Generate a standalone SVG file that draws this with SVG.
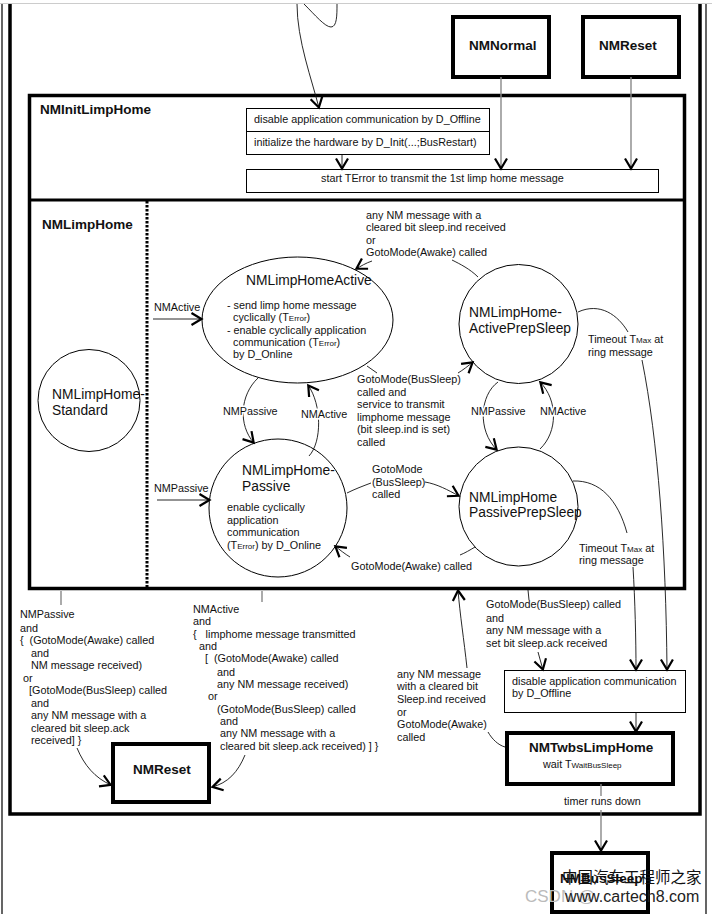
<svg xmlns="http://www.w3.org/2000/svg" width="712" height="914" viewBox="0 0 712 914">
<style>
text{font-family:"Liberation Sans",Arial,sans-serif;font-size:10.8px;fill:#111}
.b{font-weight:bold;font-size:13.5px}
.n{font-size:13.8px}
.s{font-size:8px}
.h{paint-order:stroke;stroke:#fff;stroke-width:3px}
.box{fill:#fff;stroke:#000;stroke-width:1}
.tb{fill:#fff;stroke:#000;stroke-width:4}
.st{fill:#fff;stroke:#000;stroke-width:1}
.c{fill:none;stroke:#111;stroke-width:.9}
.a{marker-end:url(#ah)}
.g{fill:none;stroke:#888;stroke-width:1.4}
.f{fill:none;stroke:#000}
.wm{font-family:"Noto Sans CJK SC","Liberation Sans",sans-serif;font-size:15.500px;fill:#111}
.wu{font-size:16px;fill:#222}
.wc{font-size:17px;fill:#bbb}
</style>
<defs>
<marker id="ah" markerUnits="userSpaceOnUse" markerWidth="16" markerHeight="16" refX="13.500" refY="8" orient="auto">
<path d="M3 2 L13 8 L3 14" fill="none" stroke="#000" stroke-width="2.200" stroke-linejoin="miter"/>
</marker>
</defs>
<rect width="712" height="914" fill="#fff"/>
<g id="frame">
<path d="M0 3.500H712" stroke="#ccc" stroke-width="1"/>
<path class="f" d="M2 4V914M706 4V914" stroke-width="1.200"/>
<path class="f" d="M10 4V814H700V4" stroke-width="3.500"/>
</g>
<g id="NMInitLimpHome">
<rect x="29.500" y="95.500" width="655" height="493" fill="#fff" stroke="#000" stroke-width="3.500"/>
<path d="M30 200H684" stroke="#000" stroke-width="3"/>
<text class="b" x="40" y="114">NMInitLimpHome</text>
<rect class="box" x="246.500" y="108.500" width="243" height="46"/>
<path d="M247 131.500H490" stroke="#000"/>
<text x="254" y="122.500">disable application communication by D_Offline</text>
<text x="254" y="146">initialize the hardware by D_Init(...;BusRestart)</text>
<rect class="box" x="246.500" y="169.500" width="412" height="23"/>
<text x="321" y="182">start TError to transmit the 1st limp home message</text>
</g>
<g id="NMLimpHome">
<path d="M147 201V587" stroke="#000" stroke-width="3" stroke-dasharray="2.500 1.500" fill="none"/>
<text class="b" x="42" y="229">NMLimpHome</text>
</g>
<g id="NMNormal"><rect class="tb" x="453" y="17" width="96" height="60"/><text class="b" x="469" y="50">NMNormal</text></g>
<g id="NMReset1"><rect class="tb" x="583" y="17" width="96" height="60"/><text class="b" x="599" y="50">NMReset</text></g>
<g id="Standard"><circle class="st" cx="89" cy="400.500" r="51"/><text class="n" x="52" y="399">NMLimpHome-</text><text class="n" x="52" y="415">Standard</text></g>
<g id="Active"><ellipse class="st" cx="297.500" cy="320" rx="95.500" ry="63"/>
<text class="n" x="246" y="285">NMLimpHomeActive</text>
<text x="227" y="309">- send limp home message</text>
<text x="233" y="321">cyclically (T<tspan class="s">Error</tspan>)</text>
<text x="227" y="334">- enable cyclically application</text>
<text x="233" y="346">communication (T<tspan class="s">Error</tspan>)</text>
<text x="233" y="358">by D_Online</text></g>
<g id="Passive"><circle class="st" cx="278" cy="508" r="69"/>
<text class="n" x="242" y="475">NMLimpHome-</text><text class="n" x="242" y="491">Passive</text>
<text x="227" y="511">enable cyclically</text><text x="227" y="524">application</text><text x="227" y="536">communication</text><text x="227" y="549">(T<tspan class="s">Error</tspan>) by D_Online</text></g>
<g id="ActivePrepSleep"><circle class="st" cx="518.500" cy="324" r="59.500"/><text class="n" x="469" y="317">NMLimpHome-</text><text class="n" x="469" y="333">ActivePrepSleep</text></g>
<g id="PassivePrepSleep"><circle class="st" cx="518.500" cy="506.500" r="59.500"/><text class="n" x="469" y="502">NMLimpHome</text><text class="n" x="469" y="517">PassivePrepSleep</text></g>
<g id="disable2"><rect class="box" x="504.500" y="670.500" width="181" height="42"/><text x="512" y="685">disable application communication</text><text x="512" y="697">by D_Offline</text></g>
<g id="NMTwbsLimpHome"><rect class="tb" x="507" y="733" width="166" height="51"/><text class="b" x="529" y="752">NMTwbsLimpHome</text><text x="543" y="768">wait T<tspan class="s">WaitBusSleep</tspan></text></g>
<g id="NMReset2"><rect class="tb" x="113" y="744" width="96" height="58"/><text class="b" x="133" y="774">NMReset</text></g>
<g id="NMBusSleep"><rect class="tb" x="552" y="853" width="96" height="59"/><text class="b" x="560" y="883">NMBusSleep</text></g>
<g id="connectors">
<path class="c a" d="M297 4C297 40 312 80 319 108"/>
<path class="c" d="M304 4C315 15 325 27 331 27C337 27 337 15 337 4"/>
<path class="g a" d="M501 77V169"/><path class="g a" d="M631 77V169"/>
<path class="c a" d="M342 155V169"/>
<path class="c a" d="M153 319H202"/><path class="c a" d="M157 500H210"/>
<path class="c a" d="M258 378C240 395 238 425 254 443"/>
<path class="c a" d="M309 456C322 442 322 405 308 385"/>
<path class="c" d="M478 277C470 269 460 264 452 260"/><path class="c a" d="M372 261C366 263 361 266 356 269"/>
<path class="c" d="M367 366L377 373"/><path class="c a" d="M458 373C463 370 468 366 473 362"/>
<path class="c a" d="M498 382C480 395 477 430 497 450"/>
<path class="c a" d="M540 449C558 432 558 400 540 382"/>
<path class="c" d="M347 493C355 489 363 486 371 483"/><path class="c a" d="M425 482C437 484 448 490 459 496"/>
<path class="c" d="M475 547C470 550 465 553 460 555"/><path class="c a" d="M350 557C345 554 340 550 335 546"/>
<path class="c" d="M578 312C600 302 618 315 628 332"/><path class="c a" d="M642 360C658 440 666 550 667 670"/>
<path class="c" d="M573 481C600 480 618 500 627 533"/><path class="c a" d="M633 567C635 600 636 640 636 670"/>
<path class="c" d="M505 747C498 745 492 739 488 732"/><path class="c a" d="M467 668C464 640 460 615 458 590"/>
<path class="c" d="M528 590L529 600"/><path class="c a" d="M538 652L543 670"/>
<path class="c a" d="M636 713V732"/>
<path class="g" d="M601 784V796"/><path class="g a" d="M601 810V851"/>
<path class="g" d="M61 591V605M262 591V602"/>
<path class="c a" d="M77 748C84 765 95 778 111 785"/>
<path class="c a" d="M245 755C238 772 228 783 212 787"/>
</g>
<g id="labels">
<text x="154" y="311">NMActive</text><text x="154" y="492">NMPassive</text>
<text class="h" x="223" y="415">NMPassive</text><text class="h" x="301" y="418">NMActive</text>
<text x="366" y="219">any NM message with a</text><text x="366" y="231">cleared bit sleep.ind received</text><text x="366" y="244">or</text><text x="366" y="256">GotoMode(Awake) called</text>
<text x="588" y="343">Timeout T<tspan class="s">Max</tspan> at</text><text x="588" y="356">ring message</text>
<text x="357" y="383">GotoMode(BusSleep)</text><text x="357" y="396">called and</text><text x="357" y="408">service to transmit</text><text x="357" y="421">limphome message</text><text x="357" y="433">(bit sleep.ind is set)</text><text x="357" y="446">called</text>
<text class="h" x="471" y="415">NMPassive</text><text class="h" x="540" y="415">NMActive</text>
<text x="372" y="473">GotoMode</text><text x="372" y="486">(BusSleep)</text><text x="372" y="498">called</text>
<text x="579" y="552">Timeout T<tspan class="s">Max</tspan> at</text><text x="579" y="564">ring message</text>
<text x="351" y="570">GotoMode(Awake) called</text>
<text x="20" y="618">NMPassive</text><text x="20" y="632">and</text><text x="20" y="644" xml:space="preserve">{  (GotoMode(Awake) called</text><text x="31" y="657">and</text><text x="31" y="669">NM message received)</text><text x="23" y="682">or</text><text x="29" y="694">[GotoMode(BusSleep) called</text><text x="31" y="707">and</text><text x="31" y="719">any NM message with a</text><text x="31" y="732">cleared bit sleep.ack</text><text x="31" y="744">received] }</text>
<text x="193" y="613">NMActive</text><text x="193" y="625">and</text><text x="193" y="638" xml:space="preserve">{   limphome message transmitted</text><text x="199" y="650">and</text><text x="205" y="662" xml:space="preserve">[  (GotoMode(Awake) called</text><text x="217" y="676">and</text><text x="217" y="688">any NM message received)</text><text x="208" y="700">or</text><text x="217" y="713">(GotoMode(BusSleep) called</text><text x="220" y="725">and</text><text x="220" y="737">any NM message with a</text><text x="220" y="750">cleared bit sleep.ack received) ] }</text>
<text x="486" y="608">GotoMode(BusSleep) called</text><text x="486" y="622">and</text><text x="486" y="634">any NM message with a</text><text x="486" y="647">set bit sleep.ack received</text>
<text x="397" y="678">any NM message</text><text x="397" y="690">with a cleared bit</text><text x="397" y="703">Sleep.ind received</text><text x="397" y="716">or</text><text x="397" y="728">GotoMode(Awake)</text><text x="397" y="741">called</text>
<text x="564" y="805">timer runs down</text>
</g>
<g id="watermark">
<text class="wc" x="525" y="902">CSDN @</text>
<text class="wm" x="562" y="883">中国汽车工程师之家</text>
<text class="wu" x="565" y="902">www.cartech8.com</text>
</g>
</svg>
